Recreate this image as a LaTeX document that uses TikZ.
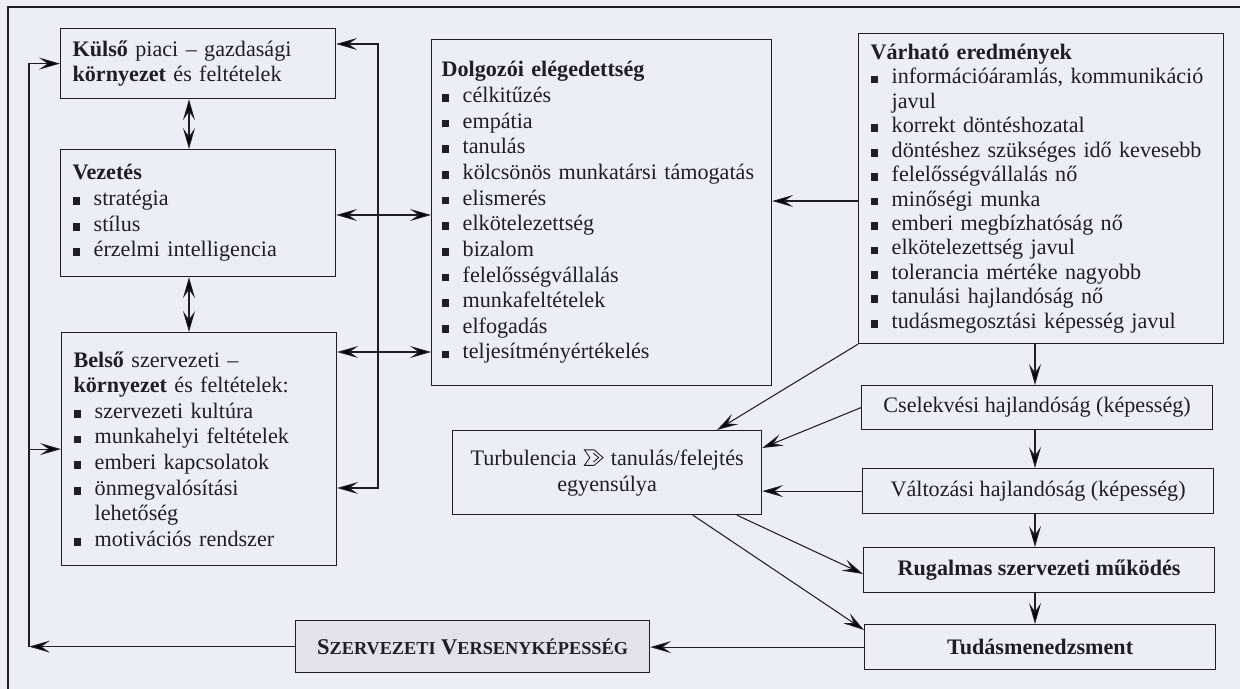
\documentclass[tikz,border=0pt]{standalone}
\usepackage{fontspec}
\setmainfont{Liberation Serif}
\usetikzlibrary{arrows.meta}
\definecolor{bg}{RGB}{237,237,246}
\definecolor{ink}{RGB}{30,30,36}
\definecolor{szfill}{RGB}{226,226,232}
\newcommand{\bul}{\makebox[12pt][l]{\rule[0.4pt]{4.4pt}{4.4pt}}}
\newcommand{\turbsym}{\tikz[baseline=0pt,x=1em,y=1em,line width=0.5pt]{\draw (0.44,0.7)--(0,0.7)--(0.24,0.35)--(0,0)--(0.44,0); \draw (0.44,0.7)--(0.84,0.35)--(0.44,0); \draw (0.4,0.55)--(0.64,0.35)--(0.4,0.15);}}
\newcommand{\scap}[2]{{\fontsize{12.8}{14}\selectfont #1}{\fontsize{10.4}{14}\selectfont #2}}
\begin{document}
\begin{tikzpicture}[x=0.02cm, y=-0.02cm,
  font=\fontsize{12.6}{14.6}\selectfont,
  >={Stealth[length=0.42cm,width=0.24cm,inset=0.17cm]},
  box/.style={draw=ink, line width=0.7pt, inner sep=0pt, anchor=north west, text=ink},
  lbox/.style={box, align=left, inner xsep=0.24cm},
  cbox/.style={box, align=center},
  conn/.style={draw=ink, line width=0.6pt}]
\fill[bg] (0,0) rectangle (1240,689);
\useasboundingbox (0,0) rectangle (1240,689);
\draw[ink, line width=1.1pt] (1240,7) -- (8,7) -- (8,689);

% left column
\node[lbox, text width=5.02cm, minimum height=1.4cm] (kulso) at (60,28)
  {\textbf{Külső} piaci – gazdasági\\\textbf{környezet} és feltételek};
\node[lbox, text width=5.02cm, minimum height=2.54cm] (vez) at (60,149)
  {\textbf{Vezetés}\\\bul stratégia\\\bul stílus\\\bul érzelmi intelligencia};
\node[lbox, text width=5.02cm, minimum height=4.66cm] (belso) at (61,332)
  {\textbf{Belső} szervezeti –\\\textbf{környezet} és feltételek:\\\bul szervezeti kultúra\\\bul munkahelyi feltételek\\\bul emberi kapcsolatok\\\bul önmegvalósítási\\\hspace*{12pt}lehetőség\\\bul motivációs rendszer};

% middle
\node[lbox, text width=6.4cm, inner xsep=0.2cm, minimum height=6.92cm] (dolg) at (431,39)
  {\textbf{Dolgozói elégedettség}\\\bul célkitűzés\\\bul empátia\\\bul tanulás\\\bul kölcsönös munkatársi támogatás\\\bul elismerés\\\bul elkötelezettség\\\bul bizalom\\\bul felelősségvállalás\\\bul munkafeltételek\\\bul elfogadás\\\bul teljesítményértékelés};
\node[cbox, text width=6.0cm, inner xsep=0.09cm, minimum height=1.68cm] (turb) at (452,430)
  {Turbulencia \turbsym\ tanulás/felejtés\\egyensúlya};
\node[box, fill=szfill, minimum width=7.08cm, minimum height=1.04cm] (sz) at (295,620)
  {\bfseries\scap{S}{ZERVEZETI} \scap{V}{ERSENYKÉPESSÉG}};

% right column
\node[lbox, text width=6.82cm, minimum height=6.2cm, font=\fontsize{12.6}{13.9}\selectfont] (var) at (858,33)
  {\textbf{Várható eredmények}\\\bul információáramlás, kommunikáció\\\hspace*{12pt}javul\\\bul korrekt döntéshozatal\\\bul döntéshez szükséges idő kevesebb\\\bul felelősségvállalás nő\\\bul minőségi munka\\\bul emberi megbízhatóság nő\\\bul elkötelezettség javul\\\bul tolerancia mértéke nagyobb\\\bul tanulási hajlandóság nő\\\bul tudásmegosztási képesség javul};
\node[cbox, minimum width=7.02cm, minimum height=0.88cm] (csel) at (861,385)
  {Cselekvési hajlandóság (képesség)};
\node[cbox, minimum width=7.02cm, minimum height=0.9cm] (valt) at (862,468)
  {Változási hajlandóság (képesség)};
\node[cbox, minimum width=7.02cm, minimum height=0.9cm] (rug) at (863,547)
  {\textbf{Rugalmas szervezeti működés}};
\node[cbox, minimum width=7.02cm, minimum height=0.9cm] (tud) at (864,624)
  {\textbf{Tudásmenedzsment}};

% helper coordinates
\coordinate (lx) at (29,0);
\coordinate (rx1) at (378,44);
\coordinate (rx2) at (378,488);
\coordinate (vx) at (189,0);
\coordinate (y215) at (0,215);
\coordinate (y352) at (0,352);
\coordinate (y201) at (0,201);
\coordinate (cx) at (1035,0);
\coordinate (t1) at (717,0);
\coordinate (y448) at (0,448);
\coordinate (t2) at (737,0);
\coordinate (y574) at (0,574);
\coordinate (t3) at (693,0);
\coordinate (y630) at (0,630);

% connectors
\draw[conn,->] (sz.west) -- (sz.west -| lx);
\draw[conn,->] (sz.west -| lx) -- (kulso.west -| lx) -- (kulso.west);
\draw[conn,->] (belso.west -| lx) -- (belso.west);
\draw[conn,<->] (rx1 -| kulso.east) -- (rx1) -- (rx2) -- (rx2 -| belso.east);
\draw[conn,<->] (kulso.south -| vx) -- (vez.north -| vx);
\draw[conn,<->] (vez.south -| vx) -- (belso.north -| vx);
\draw[conn,<->] (vez.east |- y215) -- (dolg.west |- y215);
\draw[conn,<->] (belso.east |- y352) -- (dolg.west |- y352);
\draw[conn,->] (var.west |- y201) -- (dolg.east |- y201);
\draw[conn,->] (var.south -| cx) -- (csel.north -| cx);
\draw[conn,->] (csel.south -| cx) -- (valt.north -| cx);
\draw[conn,->] (valt.south -| cx) -- (rug.north -| cx);
\draw[conn,->] (rug.south -| cx) -- (tud.north -| cx);
\draw[conn,->] (var.south west) -- (turb.north -| t1);
\draw[conn,->] (csel.west) -- (turb.east |- y448);
\draw[conn,->] (valt.west) -- (valt.west -| turb.east);
\draw[conn,->] (turb.south -| t2) -- (rug.west |- y574);
\draw[conn,->] (turb.south -| t3) -- (tud.west |- y630);
\draw[conn,->] (tud.west) -- (tud.west -| sz.east);
\end{tikzpicture}
\end{document}
